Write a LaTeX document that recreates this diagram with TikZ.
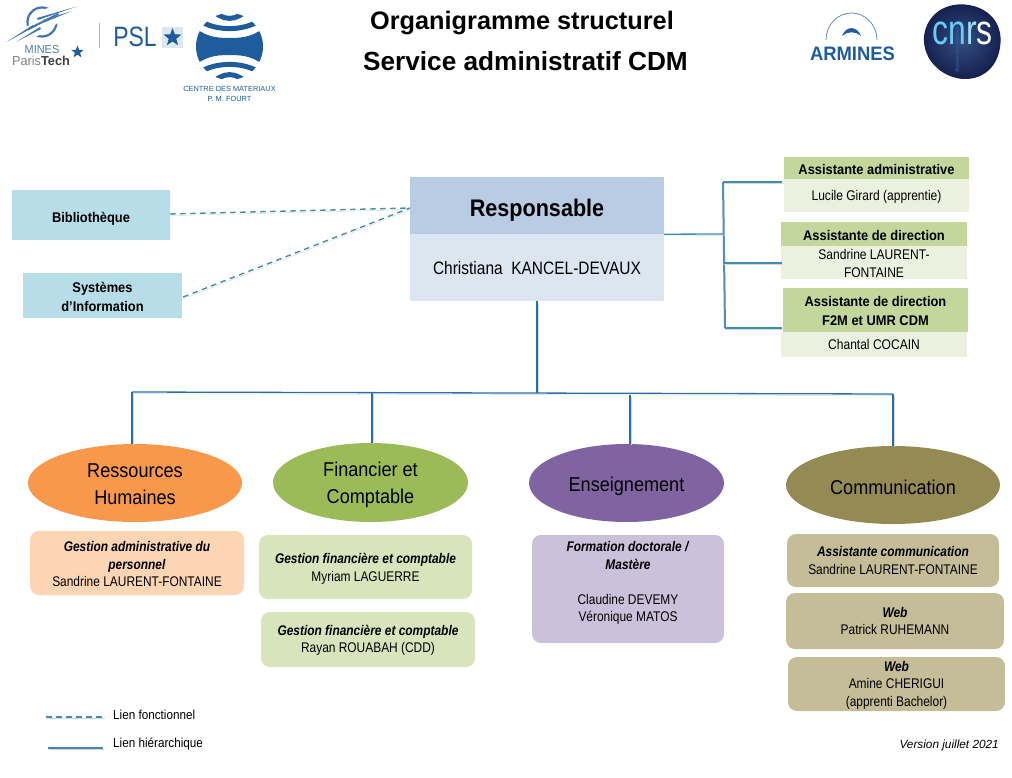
\documentclass[tikz,border=0pt]{standalone}
\usepackage{fontspec}
\setmainfont{Liberation Sans}
\usetikzlibrary{shapes.geometric}
\definecolor{hline}{HTML}{2A6FA8}
\definecolor{sline}{HTML}{3B8FB0}
\definecolor{dline}{HTML}{3F8FA8}
\definecolor{logoblue}{HTML}{1F5C9E}
\newcommand{\fs}[2]{\fontsize{#1}{#2}\selectfont}
\newcommand{\dn}[1]{\rule{0pt}{#1pt}}
\tikzset{
  x=1pt,y=-1pt,
  flat/.style={draw=none,inner sep=0pt,align=center,text=black},
  rbox/.style={flat,rounded corners=9pt},
  oval/.style={ellipse,draw=none,inner sep=0pt,align=center,font=\fs{20}{27}\addfontfeature{FakeStretch=0.905}},
  hd/.style={font=\fs{14}{19}\bfseries\addfontfeature{FakeStretch=0.92}},
  bd/.style={font=\fs{14}{18}\addfontfeature{FakeStretch=0.86}},
  sb/.style={font=\fs{14}{17.5}\addfontfeature{FakeStretch=0.852}},
  lshadow/.style={preaction={draw=black!16,transform canvas={shift={(0.8pt,-1.6pt)}}}},
  hier/.style={lshadow,draw=hline,line width=1.3pt},
  side/.style={lshadow,draw=sline,line width=1.3pt},
  func/.style={lshadow,draw=dline,line width=1.4pt,dash pattern=on 5.5pt off 4.5pt},
  lbl/.style={inner sep=0pt,anchor=west,font=\fs{13}{16}\addfontfeature{FakeStretch=0.9}},
  title/.style={inner sep=0pt,font=\fs{#1}{30}\bfseries},
}
\newcommand{\bx}[7]{\node[#6,minimum width={#4-#2},minimum height={#5-#3}] (#1) at ({(#2+#4)/2},{(#3+#5)/2}) {#7};}
\begin{document}
\begin{tikzpicture}
\useasboundingbox (0,0) rectangle (1012,777);
% titles
\node[title=25.3] (t1) at (522,23) {Organigramme structurel};
\node[title=26.2] (t2) at (525.5,61) {Service administratif CDM};

% Mines logo
\draw[logoblue!85,line width=2.2pt] (42,22) circle (14.5);
\fill[white] (12,38) -- (33,22) -- (44,9) -- (80,2) -- (62,20) -- (42,34) -- (14,46) -- cycle;
\fill[logoblue!85] (6.5,42) -- (33,25) -- (34,27) -- cycle;
\fill[logoblue!85] (16,42) -- (40,27) -- (41,29) -- cycle;
\fill[logoblue!85] (37,18) -- (77,6.5) -- (38,20) -- cycle;
\fill[logoblue!85] (43,20) -- (72,11) -- (44,22.5) -- cycle;
\fill[logoblue!85] (28,28) -- (58,13) -- (59,14.5) -- (29,30) -- cycle;
\node[inner sep=0pt,text=logoblue!80,font=\fs{11.5}{12}\addfontfeature{FakeStretch=0.95}] (mines) at (42,49.5) {MINES};
\node[inner sep=0pt,text=black!50,font=\fs{13}{13}\addfontfeature{FakeStretch=0.98}] (ptech) at (41,60.5) {Paris\textcolor{black!75}{\textbf{Tech}}};
\node[star,star points=5,star point ratio=2.4,fill=logoblue,inner sep=0pt,minimum size=13pt] (mstar) at (77.5,52) {};
\draw[logoblue!45,line width=0.8pt] (99.5,23) -- (99.5,48);
\node[inner sep=0pt,text=logoblue,font=\fs{28}{28}\addfontfeature{FakeStretch=0.82}] (psl) at (135,37) {PSL};
\node[fill=logoblue!15,inner sep=0pt,minimum size=21pt] (pslbox) at (172.5,37.5) {};
\node[star,star points=5,star point ratio=2.4,fill=logoblue,inner sep=0pt,minimum size=19pt] (pslstar) at (172.5,37.5) {};

% CDM globe
\begin{scope}[shift={(229.5,46.5)}]
\clip (0,0) circle (33.5);
\fill[logoblue] (-40,-23) .. controls (-25,-10) and (-15,-8.5) .. (0,-8.5) .. controls (15,-8.5) and (25,-10) .. (40,-23) -- (40,23) .. controls (25,10) and (15,8.5) .. (0,8.5) .. controls (-15,8.5) and (-25,10) .. (-40,23) -- cycle;
\foreach \s in {-1,1}{
 \draw[logoblue,line width=5pt] (-36,{\s*31}) .. controls (-20,{\s*13.5}) and (20,{\s*13.5}) .. (36,{\s*31});
 \draw[logoblue,line width=5pt] (-19,{\s*39}) .. controls (-8,{\s*24.5}) and (8,{\s*24.5}) .. (19,{\s*39});
}
\end{scope}
\node[inner sep=0pt,text=logoblue,font=\fs{7.4}{8}] (cdm1) at (229.5,89) {CENTRE DES MATERIAUX};
\node[inner sep=0pt,text=logoblue,font=\fs{7.4}{8}] (cdm2) at (229.5,99) {P. M. FOURT};

% Armines
\draw[logoblue!70,line width=0.8pt] (826,40) arc[start angle=180,end angle=360,x radius=25.5,y radius=27];
\fill[logoblue] (842,36) .. controls (846,25.5) and (857,25.5) .. (861,36) .. controls (856,31) and (847,31) .. (842,36) -- cycle;
\node[inner sep=0pt,text=logoblue,font=\fs{19.5}{20}\bfseries\addfontfeature{FakeStretch=0.945}] (armines) at (852.5,53.5) {ARMINES};

% CNRS
\shade[inner color={rgb,255:red,52;green,78;blue,130},outer color={rgb,255:red,20;green,32;blue,78}] (924,36) .. controls (927,14) and (945,3) .. (965,4.5) .. controls (990,7) and (1002,24) .. (1000.5,43) .. controls (999,65) and (985,79) .. (965,79) .. controls (945,79) and (922,62) .. (924,36) -- cycle;
\node[inner sep=0pt,font=\fs{42}{42}\addfontfeature{FakeStretch=0.76}] (cnrs) at (962.5,33) {\textcolor{cyan!60!white}{cn}\textcolor{cyan!40!white}{r}\textcolor{white}{s}};
\node[rotate=90,inner sep=0pt,text=cyan!50!blue!80!black,font=\fs{4.5}{5}] (cnrsv) at (957.5,50) {dépasser les frontières};

% responsable
\bx{rh}{410}{177}{664}{234}{flat,fill={rgb,255:red,184;green,204;blue,228},font=\fs{24}{28}\bfseries\addfontfeature{FakeStretch=0.9}}{\dn{27.5}Responsable}
\bx{rb}{410}{234}{664}{301}{flat,fill={rgb,255:red,220;green,230;blue,241},font=\fs{18}{22}\addfontfeature{FakeStretch=0.86}}{\dn{15}Christiana\ \ KANCEL-DEVAUX}

% functional
\bx{bib}{12}{190}{170}{240}{flat,fill={rgb,255:red,183;green,221;blue,232},hd}{\dn{17}Bibliothèque}
\bx{sys}{23}{273}{182}{318}{flat,fill={rgb,255:red,183;green,221;blue,232},hd}{\dn{12.2}Systèmes\\d’Information}
\coordinate (rw) at (410,208);
\draw[func] (bib.east) ++(0,-1) -- (rw);
\draw[func] (sys.east) ++(1,1.5) -- (rw);

% assistants
\definecolor{agh}{HTML}{C3D69B}\definecolor{agb}{HTML}{EBF1DE}
\bx{a1h}{784}{157}{969}{179}{flat,fill=agh,hd}{\dn{13.2}Assistante administrative}
\bx{a1b}{784}{179}{969}{212}{flat,fill=agb,bd}{\dn{12.2}Lucile Girard (apprentie)}
\bx{a2h}{781}{222}{967}{246}{flat,fill=agh,hd}{\dn{12.2}Assistante de direction}
\bx{a2b}{781}{246}{967}{279}{flat,fill=agb,bd}{\dn{12.2}Sandrine LAURENT-\\FONTAINE}
\bx{a3h}{783}{288}{968}{332}{flat,fill=agh,hd}{\dn{12.2}Assistante de direction\\F2M et UMR CDM}
\bx{a3b}{781}{332}{967}{357}{flat,fill=agb,bd}{Chantal COCAIN}

\coordinate (j0) at (723.5,234);
\coordinate (jt) at (723,182);
\coordinate (jm) at (723.5,263);
\coordinate (jb) at (725,328);
\coordinate (e1) at (782,182);
\coordinate (e2) at (782,263);
\coordinate (e3) at (782,328);
\draw[lshadow,draw=hline!80,line width=2pt] (jt) -- (jb);
\draw[side] (rh.south east) -- (j0);
\draw[side] (jt) -- (e1);
\draw[side] (jm) -- (e2);
\draw[side] (jb) -- (e3);

% ovals
\bx{o1}{28}{444}{242}{522}{oval,fill={rgb,255:red,248;green,152;blue,74}}{\dn{15.5}Ressources\\Humaines}
\bx{o2}{273}{443}{468}{522}{oval,fill={rgb,255:red,155;green,187;blue,89}}{\dn{18.5}Financier et\\Comptable}
\bx{o3}{529}{444}{724}{522}{oval,fill={rgb,255:red,128;green,100;blue,162}}{\dn{20.5}Enseignement}
\bx{o4}{786}{446}{1000}{524}{oval,fill={rgb,255:red,148;green,138;blue,84}}{\dn{18.5}Communication}

% hierarchy
\coordinate (bl) at (132,392);
\coordinate (bc) at (537,393);
\coordinate (br) at (893,394);
\coordinate (b2) at (372,392.5);
\coordinate (b3) at (630,395);
\draw[hier] (rb.south -| bc) -- (bc);
\draw[hier] (bl) -- (br);
\draw[hier] (bl) -- (o1.north -| bl);
\draw[hier] (b2) -- (o2.north -| b2);
\draw[hier] (b3) -- (o3.north -| b3);
\draw[hier] (br) -- (o4.north -| br);

% sub boxes
\definecolor{gp}{HTML}{FCD5B5}\definecolor{gg}{HTML}{D8E4BC}\definecolor{gv}{HTML}{CCC1DA}\definecolor{go}{HTML}{C4BD97}
\bx{p1}{30}{531}{244}{595}{rbox,fill=gp,sb}{\dn{12.2}\textbf{\textit{Gestion administrative du}}\\\textbf{\textit{personnel}}\\Sandrine LAURENT-FONTAINE}
\bx{g1}{259}{535}{472}{599}{rbox,fill=gg,sb}{\dn{14.2}\textbf{\textit{Gestion financière et comptable}}\\Myriam LAGUERRE}
\bx{g2}{261}{612}{475}{667}{rbox,fill=gg,sb}{\dn{12.2}\textbf{\textit{Gestion financière et comptable}}\\Rayan ROUABAH (CDD)}
\bx{v1}{532}{535}{724}{643}{rbox,fill=gv,sb}{\textbf{\textit{Formation doctorale /}}\\\textbf{\textit{Mastère}}\\[17.5pt]Claudine DEVEMY\\Véronique MATOS\rule[-15pt]{0pt}{0pt}}
\bx{c1}{787}{534}{999}{587}{rbox,fill=go,sb}{\textbf{\textit{Assistante communication}}\\Sandrine LAURENT-FONTAINE}
\bx{c2}{786}{593}{1004}{649}{rbox,fill=go,sb}{\textbf{\textit{Web}}\\Patrick RUHEMANN}
\bx{c3}{788}{657}{1005}{711}{rbox,fill=go,sb}{\dn{12.2}\textbf{\textit{Web}}\\Amine CHERIGUI\\(apprenti Bachelor)}

% legend
\node[lbl] (l1) at (113,715) {Lien fonctionnel};
\node[lbl] (l2) at (113,744) {Lien hiérarchique};
\coordinate (l1a) at (46,717);
\coordinate (l2a) at (48,748);
\draw[func] (l1a) -- (l1a -| 104,0);
\draw[lshadow,draw=hline!85,line width=2.8pt] (l2a) -- (l2a -| 103,0);
\node[inner sep=0pt,anchor=east,font=\fs{11.8}{13}\itshape] (ver) at (999,745.5) {Version juillet 2021};
\end{tikzpicture}
\end{document}
